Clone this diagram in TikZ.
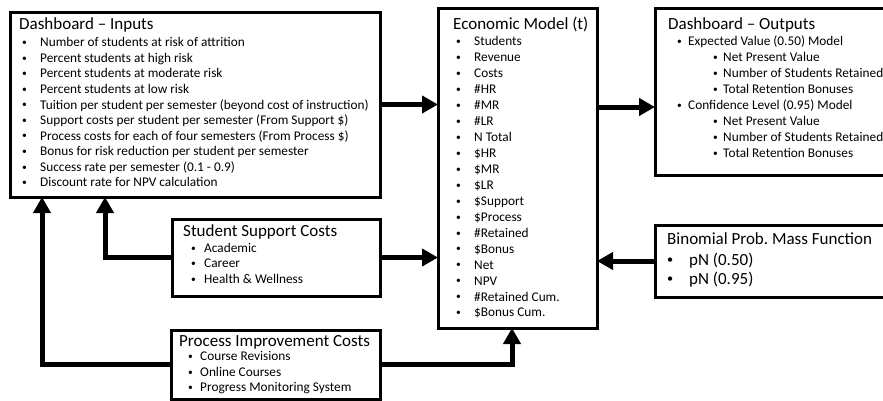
\documentclass[tikz,border=0pt]{standalone}
\usepackage{fontspec}
\usepackage{graphicx}
\setmainfont{Carlito}
\usetikzlibrary{arrows.meta,calc}
\newcommand\mybul[1]{\makebox[#1][l]{\raisebox{0.09em}{\scalebox{0.72}{•}}}}
\begin{document}
\frenchspacing
\begin{tikzpicture}[x=1pt,y=-1pt,
  box/.style={draw, line width=3pt, inner sep=0pt, outer sep=0pt, anchor=north west},
  ttl/.style={anchor=base west, inner sep=0pt, font=\fontsize{17}{20}\selectfont},
  itm/.style={anchor=base west, inner sep=0pt, font=\fontsize{13.3}{16}\selectfont},
  bigitm/.style={anchor=base west, inner sep=0pt, font=\fontsize{17}{20}\selectfont},
  arr/.style={line width=5pt, -{Triangle[length=16pt,width=17pt]}}]
\useasboundingbox (0,0) rectangle (883,400);
% boxes
\node[box, minimum width=370pt, minimum height=185pt] (inputs) at (10,12) {};
\node[box, minimum width=159pt, minimum height=320pt] (econ) at (438,8) {};
\node[box, minimum width=240pt, minimum height=167pt] (outputs) at (655,8) {};
\node[box, minimum width=240pt, minimum height=72pt] (binom) at (655,225) {};
\node[box, minimum width=208pt, minimum height=77pt] (support) at (172,219) {};
\node[box, minimum width=209pt, minimum height=69pt] (process) at (171,330) {};
% Inputs text
\node[ttl] (inT) at (19,29.5) {Dashboard – Inputs};
\foreach \t [count=\i from 0] in {
  {Number of students at risk of attrition},
  {Percent students at high risk},
  {Percent students at moderate risk},
  {Percent students at low risk},
  {Tuition per student per semester (beyond cost of instruction)},
  {Support costs per student per semester (From Support \$)},
  {Process costs for each of four semesters (From Process \$)},
  {Bonus for risk reduction per student per semester},
  {Success rate per semester (0.1 - 0.9)},
  {Discount rate for NPV calculation}}
  \node[itm] (in\i) at (22,46.8+15.55*\i) {\mybul{18pt}\t};
% Economic model text
\node[ttl] (ecT) at (453,29.5) {Economic Model (t)};
\foreach \t [count=\i from 0] in {
  {Students},{Revenue},{Costs},{\#HR},{\#MR},{\#LR},{N Total},{\$HR},{\$MR},{\$LR},
  {\$Support},{\$Process},{\#Retained},{\$Bonus},{Net},{NPV},{\#Retained Cum.},{\$Bonus Cum.}}
  \node[itm] (ec\i) at (456,45.8+15.95*\i) {\mybul{18pt}\t};
% Outputs text
\node[ttl] (ouT) at (668,29.5) {Dashboard – Outputs};
\node[itm] (ou1) at (677,45.8) {\mybul{11pt}Expected Value (0.50) Model};
\node[itm] (ou2) at (713,61.8) {\mybul{10pt}Net Present Value};
\node[itm] (ou3) at (713,77.8) {\mybul{10pt}Number of Students Retained};
\node[itm] (ou4) at (713,93.8) {\mybul{10pt}Total Retention Bonuses};
\node[itm] (ou5) at (677,109.8) {\mybul{11pt}Confidence Level (0.95) Model};
\node[itm] (ou6) at (713,125.8) {\mybul{10pt}Net Present Value};
\node[itm] (ou7) at (713,141.8) {\mybul{10pt}Number of Students Retained};
\node[itm] (ou8) at (713,157.8) {\mybul{10pt}Total Retention Bonuses};
% Binomial text
\node[ttl] (biT) at (667,244.5) {Binomial Prob. Mass Function};
\node[bigitm] (bi1) at (667,265) {\mybul{22pt}pN (0.50)};
\node[bigitm] (bi2) at (667,284.5) {\mybul{22pt}pN (0.95)};
% Support text
\node[ttl] (suT) at (183,236.5) {Student Support Costs};
\node[itm] (su1) at (191,252.3) {\mybul{13pt}Academic};
\node[itm] (su2) at (191,267.8) {\mybul{13pt}Career};
\node[itm] (su3) at (191,283.3) {\mybul{13pt}Health \& Wellness};
% Process text
\node[ttl] (prT) at (179,346.5) {Process Improvement Costs};
\node[itm] (pr1) at (188,360.8) {\mybul{12pt}Course Revisions};
\node[itm] (pr2) at (188,376.3) {\mybul{12pt}Online Courses};
\node[itm] (pr3) at (188,391.8) {\mybul{12pt}Progress Monitoring System};
% connectors
\draw[arr] (inputs.east) -- (inputs.east -| econ.west);
\draw[arr] ([yshift=-15.5pt]outputs.west -| econ.east) -- ([yshift=-15.5pt]outputs.west);
\draw[arr] (support.east) -- (support.east -| econ.west);
\draw[arr] (binom.west) -- (binom.west -| econ.east);
\draw[arr] (support.west) -| ([xshift=95pt]inputs.south west);
\draw[arr] (process.west) -| ([xshift=32pt]inputs.south west);
\draw[arr] (process.east) -| ([xshift=74pt]econ.south west);
\end{tikzpicture}
\end{document}
